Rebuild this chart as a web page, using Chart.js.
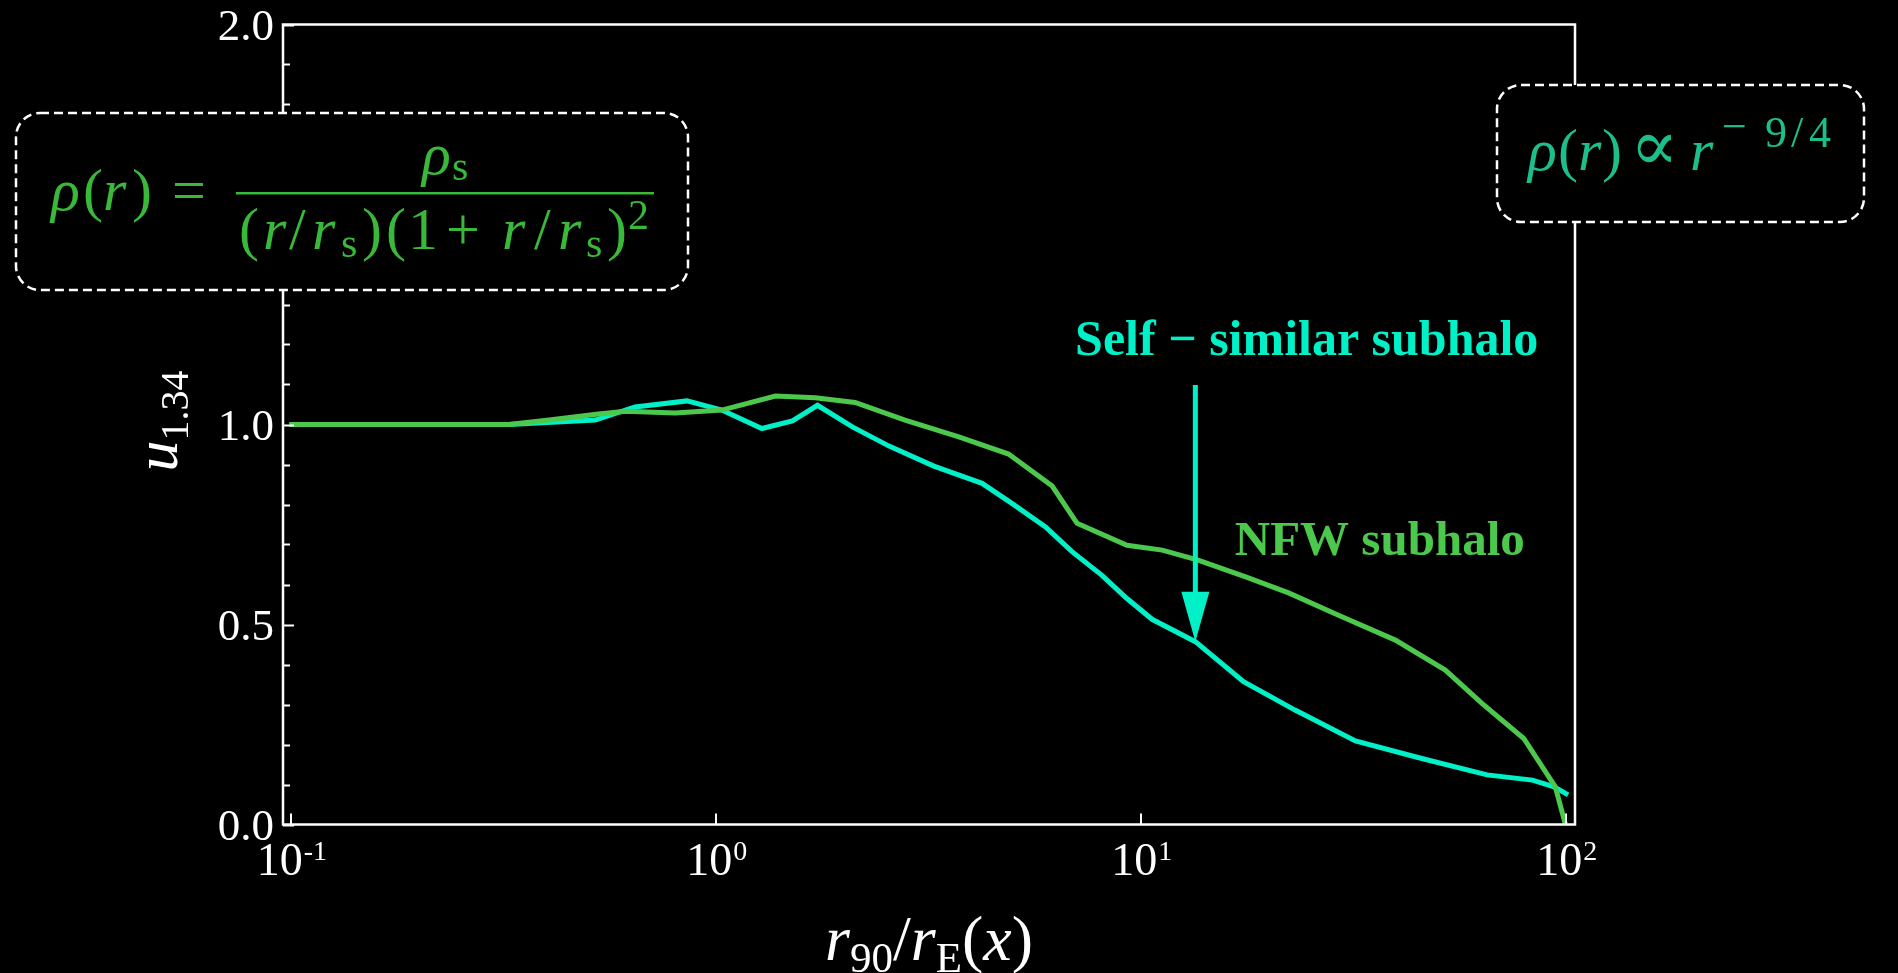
<!DOCTYPE html>
<html><head><meta charset="utf-8">
<script src="https://cdn.jsdelivr.net/npm/chart.js@4.4.1/dist/chart.umd.min.js"></script>
<style>html,body{margin:0;padding:0;background:#000;overflow:hidden}canvas{display:block}</style>
</head><body>
<canvas id="c" width="1898" height="973"></canvas>
<script>
// ---- data ----
const nfwX = [0.099, 0.325, 0.404, 0.528, 0.611, 0.80, 1.03, 1.377, 1.71, 2.12, 2.78, 3.72, 4.87, 6.17, 7.06, 9.25, 11.2, 13.6, 17.6, 22.2, 29.1, 39.6, 51.9, 63.3, 79.4, 94.2, 99.5];
const nfwY = [1.0, 1.0, 1.011, 1.026, 1.033, 1.029, 1.036, 1.071, 1.067, 1.055, 1.011, 0.969, 0.926, 0.846, 0.753, 0.698, 0.686, 0.661, 0.619, 0.579, 0.523, 0.461, 0.386, 0.303, 0.215, 0.094, 0.0];
const selfX = [0.099, 0.325, 0.519, 0.644, 0.853, 1.03, 1.28, 1.51, 1.73, 2.09, 2.55, 3.25, 4.22, 4.96, 5.95, 6.87, 8.08, 9.25, 10.6, 13.4, 17.4, 23.0, 31.9, 45.7, 65.1, 83.2, 93.6, 101];
const selfY = [1.0, 1.0, 1.011, 1.044, 1.059, 1.036, 0.990, 1.009, 1.048, 0.994, 0.946, 0.896, 0.853, 0.803, 0.744, 0.682, 0.623, 0.565, 0.513, 0.457, 0.357, 0.286, 0.209, 0.165, 0.124, 0.111, 0.094, 0.074];
const xTickValues = [0.1, 1, 10, 100];
const xTickExponents = ['-1', '0', '1', '2'];
const yTickValues = [0, 0.5, 1.0, 1.5, 2.0];
const yTickLabels = ['0.0', '0.5', '1.0', '1.5', '2.0'];
const yMinorStep = 0.1;
const xRange = [0.0956, 104.8];
const yRange = [0, 2];
const arrowX = 13.4, arrowTopY = 1.099, arrowTipY = 0.457;
const selfLabel = {x: 24.5, y: 1.174, text: 'Self \u2212 similar subhalo'};
const nfwLabel = {x: 36.4, y: 0.674, text: 'NFW subhalo'};

// ---- styles ----
const CYAN = '#00f0c8', GREEN = '#4cc84c', FORM_GREEN = '#3ab83a', FORM_TEAL = '#1cbe8c';
const SERIF = '"Liberation Serif", "Times New Roman", "DejaVu Serif", serif';
function fnt(size, style, fam) { return (style || '') + ' ' + size + 'px ' + (fam || SERIF); }

function glyphs(ctx, list, color) {
  ctx.fillStyle = color;
  ctx.textAlign = 'left';
  ctx.textBaseline = 'alphabetic';
  list.forEach(g => { ctx.font = fnt(g[3], g[4], g[5]); ctx.fillText(g[0], g[1], g[2]); });
}
function run(ctx, segs, cx, baseline, color) {
  ctx.fillStyle = color; ctx.textAlign = 'left'; ctx.textBaseline = 'alphabetic';
  const w = segs.map(s => { ctx.font = fnt(s.size, s.style); return ctx.measureText(s.t).width; });
  const total = w.reduce((a, b) => a + b, 0);
  let x = cx - total / 2;
  segs.forEach((s, i) => { ctx.font = fnt(s.size, s.style); ctx.fillText(s.t, x, baseline + (s.dy || 0)); x += w[i]; });
}
function box(ctx, x, y, w, h, r) {
  ctx.save();
  ctx.beginPath(); ctx.roundRect(x, y, w, h, r);
  ctx.fillStyle = '#000'; ctx.fill();
  ctx.setLineDash([9, 5]); ctx.lineWidth = 2.5; ctx.strokeStyle = '#fff'; ctx.stroke();
  ctx.restore();
}

const decor = {
  id: 'decor',
  beforeDraw(chart) {
    const ctx = chart.ctx;
    ctx.save(); ctx.fillStyle = '#000'; ctx.fillRect(0, 0, chart.width, chart.height); ctx.restore();
  },
  afterDraw(chart) {
    const ctx = chart.ctx, xs = chart.scales.x, ys = chart.scales.y, a = chart.chartArea;
    ctx.save();
    // frame
    ctx.strokeStyle = '#fff'; ctx.lineWidth = 2.5;
    ctx.strokeRect(a.left, a.top, a.right - a.left, a.bottom - a.top);
    // y ticks (inward)
    ctx.lineWidth = 2;
    for (let i = 0; i <= Math.round((yRange[1] - yRange[0]) / yMinorStep); i++) {
      const v = yRange[0] + i * yMinorStep;
      const major = yTickValues.some(t => Math.abs(t - v) < 1e-6);
      const py = Math.round(ys.getPixelForValue(v)) + 0.5;
      ctx.beginPath(); ctx.moveTo(a.left, py); ctx.lineTo(a.left + (major ? 11 : 7), py); ctx.stroke();
    }
    // x ticks
    xTickValues.forEach(v => {
      const px = Math.round(xs.getPixelForValue(v));
      ctx.beginPath(); ctx.moveTo(px, a.bottom); ctx.lineTo(px, a.bottom - 11); ctx.stroke();
    });
    // y labels
    ctx.fillStyle = '#fff'; ctx.font = fnt(45); ctx.textAlign = 'right'; ctx.textBaseline = 'alphabetic';
    yTickValues.forEach((v, i) => ctx.fillText(yTickLabels[i], a.left - 9, ys.getPixelForValue(v) + 15));
    // x labels 10^n
    xTickValues.forEach((v, i) => {
      const px = xs.getPixelForValue(v);
      ctx.font = fnt(46); const w1 = ctx.measureText('10').width;
      ctx.font = fnt(28); const w2 = ctx.measureText(xTickExponents[i]).width;
      const x0 = px - (w1 + w2) / 2;
      ctx.textAlign = 'left';
      ctx.font = fnt(46); ctx.fillText('10', x0, 875);
      ctx.font = fnt(28); ctx.fillText(xTickExponents[i], x0 + w1 + 1, 860);
    });
    // axis titles
    run(ctx, [
      {t: 'r', size: 64, style: 'italic'}, {t: '90', size: 43, dy: 12},
      {t: '/', size: 64}, {t: 'r', size: 64, style: 'italic'}, {t: 'E', size: 43, dy: 12},
      {t: '(', size: 64}, {t: 'x', size: 64, style: 'italic'}, {t: ')', size: 64}
    ], (a.left + a.right) / 2, 960, '#fff');
    ctx.save();
    ctx.translate(177, 421); ctx.rotate(-Math.PI / 2);
    run(ctx, [{t: 'u', size: 62, style: 'italic'}, {t: '1.34', size: 40, dy: 11}], 0, 0, '#fff');
    ctx.restore();

    // arrow
    const ax = xs.getPixelForValue(arrowX), ay0 = ys.getPixelForValue(arrowTopY), ay1 = ys.getPixelForValue(arrowTipY);
    ctx.strokeStyle = CYAN; ctx.fillStyle = CYAN; ctx.lineWidth = 5; ctx.setLineDash([]);
    ctx.beginPath(); ctx.moveTo(ax, ay0); ctx.lineTo(ax, ay1 - 40); ctx.stroke();
    ctx.beginPath(); ctx.moveTo(ax, ay1); ctx.lineTo(ax - 14, ay1 - 50); ctx.lineTo(ax + 14, ay1 - 50); ctx.closePath(); ctx.fill();

    // curve labels
    ctx.textAlign = 'center'; ctx.textBaseline = 'alphabetic';
    ctx.font = 'bold 50px ' + SERIF; ctx.fillStyle = CYAN;
    ctx.fillText(selfLabel.text, xs.getPixelForValue(selfLabel.x), ys.getPixelForValue(selfLabel.y));
    ctx.font = 'bold 49px ' + SERIF; ctx.fillStyle = GREEN;
    ctx.fillText(nfwLabel.text, xs.getPixelForValue(nfwLabel.x), ys.getPixelForValue(nfwLabel.y));

    // formula boxes
    box(ctx, 16, 113, 672, 177, 24);
    glyphs(ctx, [
      ['\u03c1', 51, 210, 60, 'italic'], ['(', 83, 210, 60], ['r', 103, 210, 60, 'italic'], [')', 132, 210, 60], ['=', 172, 210, 60],
      ['\u03c1', 422, 174, 60, 'italic'], ['s', 452, 180, 42],
      ['(', 239, 249, 60], ['r', 263, 249, 60, 'italic'], ['/', 289, 249, 60], ['r', 312, 249, 60, 'italic'], ['s', 341, 257, 42], [')', 362, 249, 60],
      ['(', 386, 249, 60], ['1', 408, 249, 60], ['+', 446, 249, 60], ['r', 502, 249, 60, 'italic'], ['/', 534, 249, 60], ['r', 558, 249, 60, 'italic'], ['s', 586, 257, 42], [')', 607, 249, 60], ['2', 628, 229, 42]
    ], FORM_GREEN);
    ctx.fillStyle = FORM_GREEN; ctx.fillRect(236, 192, 418, 2.5);

    box(ctx, 1497, 85, 367, 137, 24);
    glyphs(ctx, [
      ['\u03c1', 1528, 170, 60, 'italic'], ['(', 1558, 170, 60], ['r', 1578, 170, 60, 'italic'], [')', 1602, 170, 60],
      ['\u221d', 1630, 170, 72, '', '"DejaVu Serif", serif'], ['r', 1690, 170, 60, 'italic'],
      ['\u2212', 1722, 141, 44], ['9', 1765, 147, 44], ['/', 1791, 147, 44], ['4', 1809, 147, 44]
    ], FORM_TEAL);
    ctx.restore();
  }
};

const toPts = (xsArr, ysArr) => xsArr.map((x, i) => ({x: x, y: ysArr[i]}));

new Chart(document.getElementById('c'), {
  type: 'line',
  data: {
    datasets: [
      {label: 'NFW subhalo', data: toPts(nfwX, nfwY), borderColor: GREEN, borderWidth: 5, pointRadius: 0, tension: 0, order: 0},
      {label: 'Self-similar subhalo', data: toPts(selfX, selfY), borderColor: CYAN, borderWidth: 5, pointRadius: 0, tension: 0, order: 1}
    ]
  },
  options: {
    responsive: false, animation: false, devicePixelRatio: 1,
    layout: {padding: {left: 283, right: 323, top: 24.5, bottom: 148.5}},
    plugins: {legend: {display: false}, tooltip: {enabled: false}},
    scales: {
      x: {type: 'logarithmic', min: xRange[0], max: xRange[1], display: false},
      y: {type: 'linear', min: yRange[0], max: yRange[1], display: false}
    }
  },
  plugins: [decor]
});
</script>
</body></html>
